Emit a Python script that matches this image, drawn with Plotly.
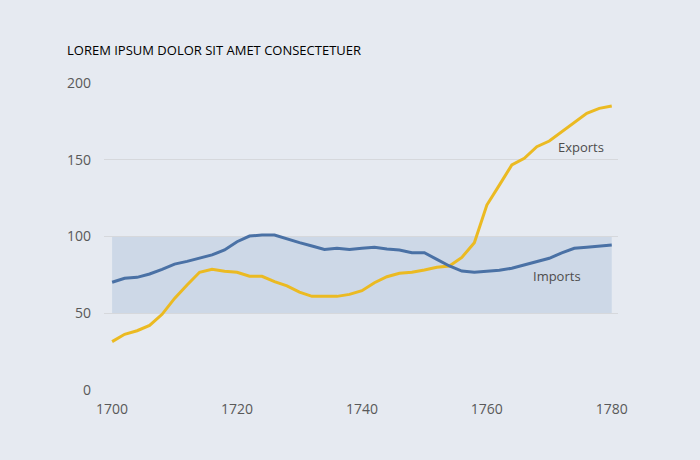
import plotly.graph_objects as go

years = list(range(1700, 1782, 2))
imports = [70.2, 72.8, 73.4, 75.6, 78.6, 82.0, 83.8, 86.0, 88.0, 91.2,
           96.6, 100.3, 101.0, 101.0, 98.4, 96.0, 93.8, 91.6, 92.3, 91.6,
           92.3, 93.0, 91.8, 91.2, 89.4, 89.4, 85.1, 80.8, 77.5, 76.7,
           77.3, 78.0, 79.3, 81.4, 83.6, 85.8, 89.4, 92.3, 93.0, 93.8, 94.5]
exports = [31.5, 36.3, 38.6, 42.1, 49.3, 59.7, 68.4, 76.7, 78.6, 77.3,
           76.7, 74.1, 74.1, 70.6, 67.8, 63.8, 61.0, 61.0, 61.0, 62.3,
           64.7, 69.9, 73.8, 76.0, 76.7, 78.2, 79.9, 80.8, 86.4, 96.0,
           120.5, 133.5, 146.6, 150.9, 158.5, 162.2, 168.3, 174.8, 180.3, 183.5, 185.0]
band_low, band_high = 50, 100
x_ticks = [1700, 1720, 1740, 1760, 1780]
y_ticks = [0, 50, 100, 150, 200]
title_text = "LOREM IPSUM DOLOR SIT AMET CONSECTETUER"

BG = "#E6EAF1"
fig = go.Figure()
fig.add_shape(type="rect", xref="x", yref="y", x0=years[0], x1=years[-1],
              y0=band_low, y1=band_high, fillcolor="#CDD8E7", line_width=0,
              layer="below")
fig.add_trace(go.Scatter(x=years, y=exports, mode="lines", name="Exports",
                         line=dict(color="#EBBA22", width=3)))
fig.add_trace(go.Scatter(x=years, y=imports, mode="lines", name="Imports",
                         line=dict(color="#4A71A5", width=3)))

fig.add_annotation(x=1775, y=158, text="Exports", showarrow=False,
                   font=dict(family="Open Sans", size=13, color="#4D4D4D"))
fig.add_annotation(x=1771.3, y=74, text="Imports", showarrow=False,
                   font=dict(family="Open Sans", size=13, color="#4D4D4D"))
fig.add_annotation(xref="paper", yref="paper", x=-0.076, y=1.1075, xanchor="left",
                   yanchor="middle", text=title_text, showarrow=False,
                   font=dict(family="Open Sans", size=13, color="#000000"))

fig.update_layout(
    width=700, height=460,
    paper_bgcolor=BG, plot_bgcolor=BG,
    margin=dict(l=104, r=82, t=83, b=70),
    showlegend=False,
    font=dict(family="Open Sans", size=14, color="#595959"),
)
fig.update_xaxes(range=[1698.7, 1781], tickvals=x_ticks, showgrid=False,
                 zeroline=False, showline=False, ticks="", ticklen=0,
                 ticklabelstandoff=9)
fig.update_yaxes(range=[0, 200], tickvals=y_ticks, showgrid=True,
                 gridcolor="#D6D8DC", gridwidth=1, zeroline=False,
                 showline=False, ticks="", ticklabelstandoff=12)

fig.write_html("out.html", config={"displayModeBar": False},
               post_script="document.body.style.margin='0';document.body.style.background='" + BG + "';")
